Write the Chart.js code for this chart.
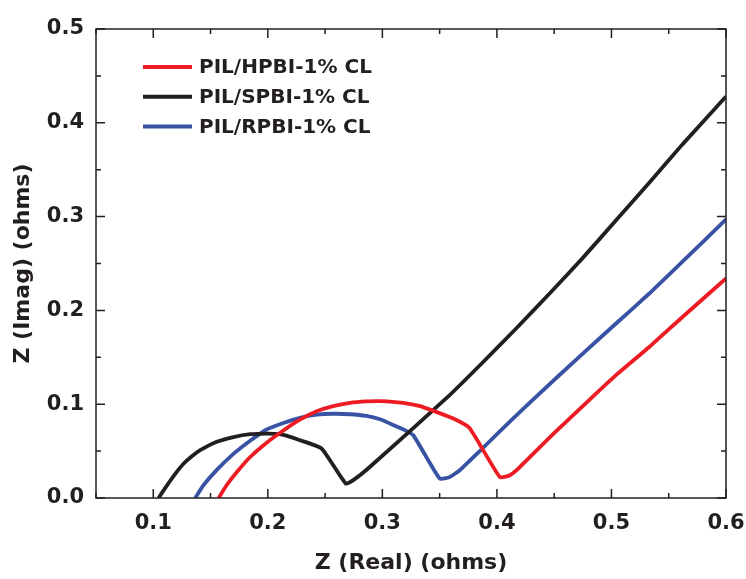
<!DOCTYPE html>
<html>
<head>
<meta charset="utf-8">
<script src="https://cdn.jsdelivr.net/npm/chart.js@4.4.1/dist/chart.umd.min.js"></script>
<style>
  html, body { margin: 0; padding: 0; background: #fff; }
  #wrap { width: 746px; height: 579px; }
</style>
</head>
<body>
<div id="wrap"><canvas id="graphique" width="746" height="579"></canvas></div>
<script>
// ---- data ----
const seriesNames = ["PIL/HPBI-1% CL", "PIL/SPBI-1% CL", "PIL/RPBI-1% CL"];

const hpbiX = [0.157, 0.164, 0.173, 0.1846, 0.199, 0.2136, 0.228, 0.2427, 0.257, 0.2717, 0.286, 0.298, 0.318, 0.333, 0.347, 0.362, 0.376, 0.4025, 0.411, 0.420, 0.449, 0.481, 0.504, 0.533, 0.562, 0.600];
const hpbiY = [0.000, 0.0136, 0.0277, 0.0437, 0.059, 0.072, 0.0835, 0.0925, 0.098, 0.1015, 0.103, 0.1033, 0.1015, 0.098, 0.0918, 0.0847, 0.0747, 0.0224, 0.024, 0.033, 0.068, 0.105, 0.131, 0.161, 0.193, 0.234];

const spbiX = [0.1046, 0.112, 0.119, 0.1264, 0.1337, 0.141, 0.1555, 0.170, 0.1846, 0.199, 0.2107, 0.228, 0.247, 0.268, 0.2746, 0.289, 0.359, 0.388, 0.417, 0.446, 0.475, 0.504, 0.533, 0.562, 0.600];
const spbiY = [0.000, 0.0135, 0.0255, 0.0365, 0.0445, 0.051, 0.060, 0.065, 0.068, 0.0687, 0.068, 0.0616, 0.0527, 0.0154, 0.019, 0.033, 0.110, 0.145, 0.181, 0.218, 0.256, 0.296, 0.336, 0.377, 0.428];

const rpbiX = [0.1366, 0.1438, 0.1555, 0.170, 0.1846, 0.199, 0.2136, 0.228, 0.2427, 0.257, 0.2717, 0.286, 0.298, 0.3066, 0.318, 0.327, 0.350, 0.3589, 0.3676, 0.385, 0.4025, 0.4315, 0.475, 0.504, 0.533, 0.562, 0.600];
const rpbiY = [0.000, 0.0136, 0.030, 0.047, 0.061, 0.073, 0.080, 0.0855, 0.0888, 0.0898, 0.0893, 0.0875, 0.084, 0.0794, 0.0733, 0.0669, 0.0207, 0.0224, 0.0296, 0.050, 0.071, 0.105, 0.154, 0.186, 0.218, 0.252, 0.297];

const xTicks = [0.1, 0.2, 0.3, 0.4, 0.5, 0.6];
const yTicks = [0.0, 0.1, 0.2, 0.3, 0.4, 0.5];

// ---- styles ----
const INK = "#231f20";
const FONT = "'DejaVu Sans', sans-serif";
const colors = ["rgb(237, 28, 36)", "rgb(35, 31, 32)", "rgb(57, 83, 164)"];

function pairs(xs, ys) {
  return xs.map((x, i) => ({ x: x, y: ys[i] }));
}

// frame + inward ticks (major and minor) on all four sides
const framePlugin = {
  id: "frame",
  afterDraw(chart) {
    const { ctx, chartArea: a, scales } = chart;
    ctx.save();
    ctx.strokeStyle = INK;
    ctx.lineWidth = 1.5;
    ctx.strokeRect(a.left, a.top, a.right - a.left, a.bottom - a.top);
    ctx.beginPath();
    for (let v = 0.05; v <= 0.6001; v += 0.05) {
      const px = scales.x.getPixelForValue(v);
      const major = Math.abs(v * 10 - Math.round(v * 10)) < 1e-6;
      const len = major ? 9 : 5;
      ctx.moveTo(px, a.bottom); ctx.lineTo(px, a.bottom - len);
      ctx.moveTo(px, a.top); ctx.lineTo(px, a.top + len);
    }
    for (let v = 0; v <= 0.5001; v += 0.05) {
      const py = scales.y.getPixelForValue(v);
      const major = Math.abs(v * 10 - Math.round(v * 10)) < 1e-6;
      const len = major ? 9 : 5;
      ctx.moveTo(a.left, py); ctx.lineTo(a.left + len, py);
      ctx.moveTo(a.right, py); ctx.lineTo(a.right - len, py);
    }
    ctx.stroke();
    ctx.restore();
  }
};

// legend drawn inside the plot, top left
const legendPlugin = {
  id: "insideLegend",
  afterDatasetsDraw(chart) {
    const { ctx, chartArea: a } = chart;
    ctx.save();
    ctx.font = "bold 20px " + FONT;
    ctx.textBaseline = "middle";
    chart.data.datasets.forEach((ds, i) => {
      const y = a.top + 38 + i * 29.7;
      ctx.strokeStyle = ds.borderColor;
      ctx.lineWidth = 4;
      ctx.beginPath();
      ctx.moveTo(a.left + 47, y);
      ctx.lineTo(a.left + 96, y);
      ctx.stroke();
      ctx.fillStyle = INK;
      ctx.fillText(ds.label, a.left + 103, y + 1);
    });
    ctx.restore();
  }
};

function createChart() {
  const ctx = document.getElementById("graphique");
  const sets = [pairs(hpbiX, hpbiY), pairs(spbiX, spbiY), pairs(rpbiX, rpbiY)];

  new Chart(ctx, {
    type: "line",
    data: {
      datasets: sets.map((d, i) => ({
        label: seriesNames[i],
        data: d,
        borderColor: colors[i],
        backgroundColor: colors[i],
        borderWidth: 3.8,
        borderJoinStyle: "round",
        pointRadius: 0,
        fill: false,
        tension: 0.15
      }))
    },
    options: {
      responsive: false,
      animation: false,
      devicePixelRatio: 1,
      layout: { padding: { top: 29, right: 20, left: 0, bottom: 0 } },
      plugins: {
        legend: { display: false },
        tooltip: { enabled: false }
      },
      scales: {
        x: {
          type: "linear",
          min: 0.05,
          max: 0.6,
          afterBuildTicks: s => { s.ticks = xTicks.map(v => ({ value: v })); },
          afterFit: s => { s.height = 81; s.paddingLeft = 0; s.paddingRight = 0; },
          grid: { display: false, drawTicks: false },
          border: { display: false },
          ticks: {
            color: INK,
            padding: 13,
            font: { family: FONT, size: 21, weight: "bold" },
            callback: v => v.toFixed(1)
          },
          title: {
            display: true,
            text: "Z (Real) (ohms)",
            color: INK,
            padding: { top: 0, bottom: 3 },
            font: { family: FONT, size: 22, weight: "bold" }
          }
        },
        y: {
          type: "linear",
          min: 0,
          max: 0.5,
          afterBuildTicks: s => { s.ticks = yTicks.map(v => ({ value: v })); },
          afterFit: s => { s.width = 96; },
          grid: { display: false, drawTicks: false },
          border: { display: false },
          ticks: {
            color: INK,
            padding: 12,
            font: { family: FONT, size: 21, weight: "bold" },
            callback: v => v.toFixed(1)
          },
          title: {
            display: true,
            text: "Z (Imag) (ohms)",
            color: INK,
            padding: { top: 10, bottom: 0 },
            font: { family: FONT, size: 22, weight: "bold" }
          }
        }
      }
    },
    plugins: [framePlugin, legendPlugin]
  });
}

document.addEventListener("DOMContentLoaded", createChart);
</script>
</body>
</html>
